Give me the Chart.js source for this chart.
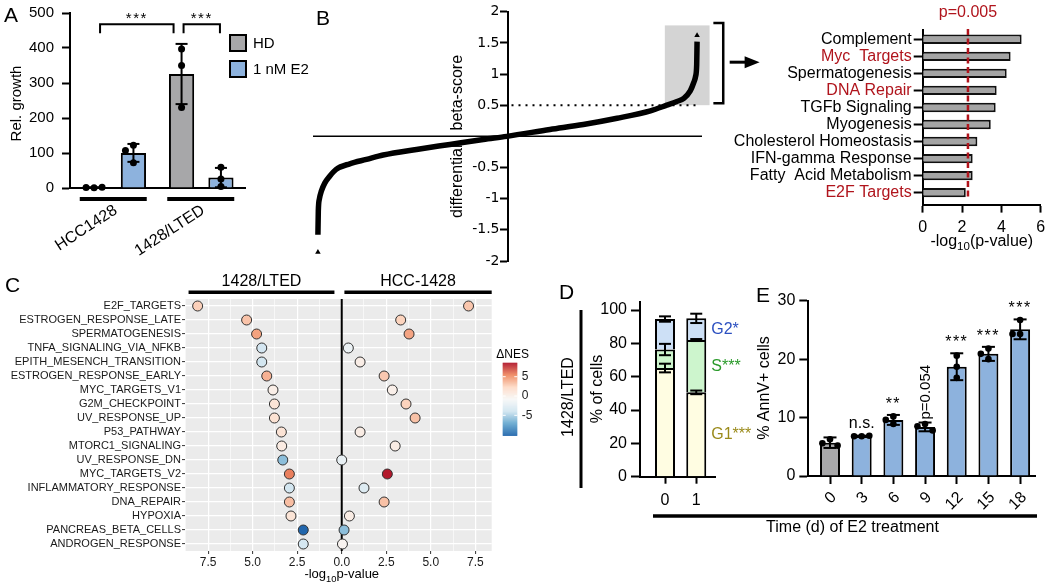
<!DOCTYPE html>
<html>
<head>
<meta charset="utf-8">
<script src="https://cdn.jsdelivr.net/npm/chart.js@4.4.1/dist/chart.umd.min.js"></script>
<style>
  body { margin: 0; background: #fff; }
  #fig { position: relative; width: 1050px; height: 588px; overflow: hidden; font-family: 'Liberation Sans', Arial, sans-serif; }
  #fig canvas { position: absolute; }
  .lab { position: absolute; font-size: 21px; line-height: 1; color: #000; }
</style>
</head>
<body>
<div id="fig">
  <canvas id="cA" width="320" height="262" style="left:0;top:0"></canvas>
  <canvas id="cB" width="520" height="280" style="left:250px;top:0"></canvas>
  <canvas id="cB2" width="330" height="260" style="left:720px;top:0"></canvas>
  <canvas id="cC" width="540" height="320" style="left:0;top:268px"></canvas>
  <canvas id="cD" width="240" height="240" style="left:520px;top:280px"></canvas>
  <canvas id="cE" width="410" height="308" style="left:640px;top:280px"></canvas>
  <div class="lab" style="left:4px;top:4px">A</div>
  <div class="lab" style="left:316px;top:7px">B</div>
  <div class="lab" style="left:5px;top:274px">C</div>
  <div class="lab" style="left:559px;top:281px">D</div>
  <div class="lab" style="left:756px;top:284px">E</div>
</div>
<script>
// ---- A: relative growth
const aCells = ['HCC1428', '1428/LTED'];
const aHD = [1.3, 325.7];
const aHDsd = [0.8, 86];
const aE2 = [100.3, 29.7];
const aE2sd = [25.6, 27.7];
const aHDrep = [[0.5, 1.5, 2], [397, 350, 230]];
const aE2rep = [[122, 107, 72], [59, 26, 4]];
const aTicks = [0, 100, 200, 300, 400, 500];

// ---- B: ranked differential beta-score (rank in % of guides)
const bRank = [0, 0.1, 0.4, 0.9, 1.8, 3.1, 4.8, 8.4, 12.8, 17.2, 26, 34.8, 43.6, 49.8, 61.2, 70, 78.9, 87.7, 92, 94.7, 96.5, 98.2, 99.1, 99.6, 99.9, 100];
const bScore = [-1.58, -1.2, -1.0, -0.88, -0.75, -0.64, -0.53, -0.44, -0.37, -0.30, -0.21, -0.13, -0.05, 0, 0.11, 0.19, 0.29, 0.41, 0.50, 0.56, 0.61, 0.73, 0.86, 0.96, 1.15, 1.52];
const bEndRank = [0, 100];
const bEndScore = [-1.86, 1.62];

// ---- B: hallmark enrichment of top hits
const bPath = ['Complement', 'Myc  Targets', 'Spermatogenesis', 'DNA Repair', 'TGFb Signaling', 'Myogenesis',
  'Cholesterol Homeostasis', 'IFN-gamma Response', 'Fatty  Acid Metabolism', 'E2F Targets'];
const bLogP = [5.03, 4.47, 4.27, 3.76, 3.71, 3.46, 2.78, 2.54, 2.54, 2.19];
const bRed = ['Myc  Targets', 'DNA Repair', 'E2F Targets'];
const bCut = 0.005;

// ---- C: GSEA hallmarks
const cPath = ['E2F_TARGETS', 'ESTROGEN_RESPONSE_LATE', 'SPERMATOGENESIS', 'TNFA_SIGNALING_VIA_NFKB',
  'EPITH_MESENCH_TRANSITION', 'ESTROGEN_RESPONSE_EARLY', 'MYC_TARGETS_V1', 'G2M_CHECKPOINT', 'UV_RESPONSE_UP',
  'P53_PATHWAY', 'MTORC1_SIGNALING', 'UV_RESPONSE_DN', 'MYC_TARGETS_V2', 'INFLAMMATORY_RESPONSE', 'DNA_REPAIR',
  'HYPOXIA', 'PANCREAS_BETA_CELLS', 'ANDROGEN_RESPONSE'];
const cLtedP = [8.09, 5.34, 4.78, 4.49, 4.49, 4.21, 3.86, 3.78, 3.78, 3.39, 3.37, 3.31, 2.94, 2.94, 2.94, 2.85, 2.16, 2.16];
const cLtedNes = [2.8, 3.3, 4.6, -3.6, -3.7, 4.0, 0.3, 1.4, 1.6, 1.5, 0.6, -5.9, 5.8, -3.7, 3.5, 1.4, -10.1, -3.5];
const cHccP = [7.12, 3.31, 3.78, 0.37, 1.03, 2.38, 2.84, 3.61, 4.12, 1.03, 3.0, 0, 2.56, 1.25, 2.38, 0.43, 0.13, 0.04];
const cHccNes = [3.2, 2.65, 4.5, -1.6, 0.4, 3.1, 0.15, 2.7, 3.4, 0.5, 0.5, -2.0, 8.63, -2.9, 3.4, 0.5, -5.9, -0.3];
const cNesTicks = [5, 0, -5];

// ---- D: cell cycle
const dTime = ['0', '1'];
const dG1 = [65.2, 50.6], dG1sd = [2.6, 1.1];
const dS = [11.1, 31.4], dSsd = [3.4, 0.6];
const dG2 = [18.3, 13.0], dG2sd = [1.6, 2.8];
const dTicks = [0, 20, 40, 60, 80, 100];

// ---- E: apoptosis
const eDays = ['0', '3', '6', '9', '12', '15', '18'];
const eMean = [5.7, 6.8, 9.6, 8.4, 18.7, 20.9, 25.1];
const eSd = [0.9, 0.1, 0.85, 0.75, 2.3, 1.2, 1.7];
const eRep = [[6.3, 5.6, 5.2], [6.8, 6.8, 6.9], [10.2, 9.6, 8.9], [8.9, 8.5, 7.8], [20.6, 18.7, 16.8], [21.8, 20.9, 20.0], [26.7, 24.3, 24.3]];
const eSig = ['', 'n.s.', '**', 'p=0.054', '***', '***', '***'];
const eTicks = [0, 10, 20, 30];

const FAM = "'Liberation Sans', Arial, sans-serif";
const WIDE = "'DejaVu Sans', sans-serif";
const BLACK = '#000';
const GRAY = '#a7a7a9';
const BLUE = '#8db2dd';
const RED = '#b0141c';
Chart.defaults.font.family = FAM;
Chart.defaults.color = BLACK;
Chart.defaults.animation = false;
Chart.defaults.responsive = false;
Chart.defaults.plugins.legend.display = false;
Chart.defaults.plugins.tooltip.enabled = false;

function fixW(w) { return s => { s.width = w; s.paddingTop = 0; s.paddingBottom = 0; }; }
function fixH(h) { return s => { s.height = h; s.paddingLeft = 0; s.paddingRight = 0; }; }
function tickGrid(len) { return { drawOnChartArea: false, offset: false, tickLength: len, tickWidth: 2, tickColor: BLACK }; }
const AXB = { color: BLACK, width: 2 };
function setTicks(vals) { return s => { s.ticks = vals.map(v => ({ value: v })); }; }

function txt(ctx, s, x, y, size, opt) {
  opt = opt || {};
  ctx.save();
  ctx.font = size + 'px ' + (opt.fam || FAM);
  ctx.fillStyle = opt.color || BLACK;
  ctx.textAlign = opt.align || 'center';
  ctx.textBaseline = opt.base || 'middle';
  if (opt.spacing) ctx.letterSpacing = opt.spacing + 'px';
  ctx.translate(x, y);
  if (opt.rot) ctx.rotate(opt.rot);
  ctx.fillText(s, 0, 0);
  ctx.restore();
}
// text with a subscript part, centred on x, baseline y
function subText(ctx, parts, x, y, size) {
  ctx.save();
  ctx.fillStyle = BLACK;
  ctx.textAlign = 'left';
  ctx.textBaseline = 'alphabetic';
  const fonts = parts.map(p => (p[1] ? size * 0.72 : size) + 'px ' + FAM);
  let w = 0;
  parts.forEach((p, i) => { ctx.font = fonts[i]; w += ctx.measureText(p[0]).width; });
  let cx = x - w / 2;
  parts.forEach((p, i) => {
    ctx.font = fonts[i];
    ctx.fillText(p[0], cx, p[1] ? y + size * 0.28 : y);
    cx += ctx.measureText(p[0]).width;
  });
  ctx.restore();
}
function line(ctx, pts, w, color, dash) {
  ctx.save();
  ctx.strokeStyle = color || BLACK;
  ctx.lineWidth = w;
  if (dash) ctx.setLineDash(dash);
  ctx.beginPath();
  pts.forEach((p, i) => i ? ctx.lineTo(p[0], p[1]) : ctx.moveTo(p[0], p[1]));
  ctx.stroke();
  ctx.restore();
}
function errBar(ctx, x, y1, y2, half) {
  line(ctx, [[x, y1], [x, y2]], 2);
  line(ctx, [[x - half, y1], [x + half, y1]], 2);
  line(ctx, [[x - half, y2], [x + half, y2]], 2);
}
// simple beeswarm: shift colliding dots sideways
function swarm(ys, r) {
  const placed = [], d = 2 * r + 1;
  return ys.map(y => {
    for (const k of [0, -1, 1, -2, 2, -3, 3]) {
      const x = k * d;
      if (placed.every(p => Math.hypot(p[0] - x, p[1] - y) >= 2 * r)) { placed.push([x, y]); return x; }
    }
    return 0;
  });
}
function dots(ctx, x, ys, r) {
  const off = swarm(ys, r);
  ctx.save();
  ctx.fillStyle = BLACK;
  ys.forEach((y, i) => { ctx.beginPath(); ctx.arc(x + off[i], y, r, 0, Math.PI * 2); ctx.fill(); });
  ctx.restore();
}

// ================= A =================
new Chart(document.getElementById('cA'), {
  type: 'bar',
  data: {
    labels: aCells,
    datasets: [
      { label: 'HD', data: aHD, backgroundColor: GRAY, borderColor: BLACK, borderWidth: 2, categoryPercentage: 0.9, barPercentage: 0.64 },
      { label: '1 nM E2', data: aE2, backgroundColor: BLUE, borderColor: BLACK, borderWidth: 2, categoryPercentage: 0.9, barPercentage: 0.64 }
    ]
  },
  options: {
    layout: { padding: { left: 0, top: 13, right: 75, bottom: 0 } },
    scales: {
      x: {
        grid: { display: false, drawTicks: false }, border: AXB,
        ticks: { display: false },
        afterFit: fixH(74)
      },
      y: {
        min: 0, max: 500, afterBuildTicks: setTicks(aTicks),
        ticks: { font: { size: 15 }, padding: 8 },
        grid: tickGrid(8), border: AXB, afterFit: fixW(70)
      }
    }
  },
  plugins: [{
    id: 'aExtra',
    afterDatasetsDraw(c) {
      const ctx = c.ctx, y = c.scales.y;
      [[aHD, aHDsd, aHDrep], [aE2, aE2sd, aE2rep]].forEach(([m, sd, rep], di) => {
        c.getDatasetMeta(di).data.forEach((bar, j) => {
          errBar(ctx, bar.x, y.getPixelForValue(m[j] + sd[j]), y.getPixelForValue(Math.max(0, m[j] - sd[j])), 6);
          dots(ctx, bar.x, rep[j].map(v => y.getPixelForValue(v)), 3.5);
        });
      });
    },
    afterDraw(c) {
      const ctx = c.ctx, x = c.scales.x, y = c.scales.y;
      const hd = c.getDatasetMeta(0).data, e2 = c.getDatasetMeta(1).data;
      aCells.forEach((g, j) => {
        const cx = x.getPixelForValue(j);
        line(ctx, [[cx - 34, y.bottom + 11], [cx + 33, y.bottom + 11]], 4);
        txt(ctx, g, cx + 2, y.bottom + 21, 16, { align: 'right', rot: -33 * Math.PI / 180 });
      });
      txt(ctx, 'Rel. growth', 17, 103.5, 15, { rot: -Math.PI / 2 });
      const yb = y.getPixelForValue(468), yl = y.getPixelForValue(442);
      [[hd[0].x + 6, hd[1].x - 8], [hd[1].x + 2, e2[1].x - 1]].forEach(([x1, x2]) => {
        line(ctx, [[x1, yl], [x1, yb], [x2, yb], [x2, yl]], 2);
        txt(ctx, '***', (x1 + x2) / 2, yb - 5, 15, { spacing: 1.5 });
      });
      c.data.datasets.forEach((ds, i) => {
        const top = 34 + i * 26;
        ctx.save();
        ctx.fillStyle = ds.backgroundColor;
        ctx.fillRect(229, top, 18, 18);
        ctx.strokeStyle = BLACK; ctx.lineWidth = 2;
        ctx.strokeRect(230, top + 1, 16, 16);
        ctx.restore();
        txt(ctx, ds.label, 253, top + 9.5, 15, { align: 'left' });
      });
    }
  }]
});

// ================= B: ranked curve =================
new Chart(document.getElementById('cB'), {
  type: 'scatter',
  data: {
    datasets: [
      { data: bRank.map((r, i) => ({ x: r, y: bScore[i] })), showLine: true, borderColor: BLACK, borderWidth: 5.5,
        pointRadius: 0, cubicInterpolationMode: 'monotone', clip: false },
      { data: bEndRank.map((r, i) => ({ x: r, y: bEndScore[i] })), pointStyle: 'triangle', pointRadius: 3.2,
        backgroundColor: BLACK, borderColor: BLACK, borderWidth: 0, clip: false }
    ]
  },
  options: {
    layout: { padding: { left: 63, right: 68, top: 11.7, bottom: 19 } },
    scales: {
      x: { type: 'linear', min: -1.3, max: 101.3, display: false },
      y: {
        position: 'center', min: -2, max: 2,
        ticks: { stepSize: 0.5, font: { size: 14, family: WIDE }, padding: 1, callback: v => v === 0 ? '' : String(v) },
        grid: tickGrid(7), border: AXB, afterFit: fixW(40)
      }
    }
  },
  plugins: [{
    id: 'bExtra',
    beforeDatasetsDraw(c) {
      const ctx = c.ctx, x = c.scales.x, y = c.scales.y;
      const gx1 = x.getPixelForValue(91.5), gx2 = x.getPixelForValue(103.3);
      const gy1 = y.getPixelForValue(1.78), gy2 = y.getPixelForValue(0.5);
      ctx.save(); ctx.fillStyle = '#d4d4d4'; ctx.fillRect(gx1, gy1, gx2 - gx1, gy2 - gy1); ctx.restore();
      const y0 = y.getPixelForValue(0);
      line(ctx, [[c.chartArea.left, y0], [c.chartArea.right, y0]], 1.5);
      const yh = y.getPixelForValue(0.5);
      line(ctx, [[x.getPixelForValue(50) + 4, yh], [x.getPixelForValue(100), yh]], 2, BLACK, [2, 5]);
    },
    afterDraw(c) {
      const ctx = c.ctx, x = c.scales.x, y = c.scales.y;
      const bx1 = x.getPixelForValue(104.3), bx2 = x.getPixelForValue(106.9);
      const by1 = y.getPixelForValue(1.82), by2 = y.getPixelForValue(0.53);
      line(ctx, [[bx1, by1], [bx2, by1], [bx2, by2], [bx1, by2]], 2.5);
      const ax1 = x.getPixelForValue(108.6), ax2 = x.getPixelForValue(116.5), ay = y.getPixelForValue(1.19);
      line(ctx, [[ax1, ay], [ax2 - 12, ay]], 3);
      ctx.save(); ctx.fillStyle = BLACK; ctx.beginPath();
      ctx.moveTo(ax2, ay); ctx.lineTo(ax2 - 15, ay - 6); ctx.lineTo(ax2 - 15, ay + 6); ctx.closePath(); ctx.fill(); ctx.restore();
      const tx = x.getPixelForValue(50) - 50;
      txt(ctx, 'beta-score', tx, y.getPixelForValue(0.7), 16, { rot: -Math.PI / 2 });
      txt(ctx, 'differential', tx, y.getPixelForValue(-0.72), 16, { rot: -Math.PI / 2 });
    }
  }]
});

// ================= B: enrichment bars =================
new Chart(document.getElementById('cB2'), {
  type: 'bar',
  data: {
    datasets: [{
      data: bLogP.map((v, i) => ({ x: v, y: i })), backgroundColor: '#a4a4a4', borderColor: '#111', borderWidth: 2,
      barPercentage: 0.55, categoryPercentage: 1
    }]
  },
  options: {
    indexAxis: 'y',
    layout: { padding: { left: 0, right: 9.3, top: 29.9, bottom: 0 } },
    scales: {
      x: {
        type: 'linear', min: 0, max: 6, ticks: { stepSize: 2, font: { size: 16 }, padding: 5 },
        grid: tickGrid(8), border: AXB, afterFit: fixH(55.4)
      },
      y: {
        type: 'linear', offset: false, reverse: true, min: -0.55, max: 9.7, afterBuildTicks: setTicks(bPath.map((p, i) => i)),
        ticks: {
          autoSkip: false, font: { size: 16 }, padding: 2, callback: v => bPath[v],
          color: t => bRed.includes(bPath[t.tick.value]) ? RED : BLACK
        },
        grid: tickGrid(9), border: AXB, afterFit: fixW(202.7)
      }
    }
  },
  plugins: [{
    id: 'b2Extra',
    afterDatasetsDraw(c) {
      const ctx = c.ctx, x = c.scales.x;
      const px = x.getPixelForValue(-Math.log10(bCut));
      line(ctx, [[px, c.chartArea.top - 1], [px, c.chartArea.bottom - 6]], 2.5, RED, [6, 3.5]);
      txt(ctx, 'p=' + bCut, px, 12.5, 16, { color: RED });
      subText(ctx, [['-log', 0], ['10', 1], ['(p-value)', 0]], (c.chartArea.left + c.chartArea.right) / 2, 245.5, 16);
    }
  }]
});

// ================= C: bubble dot plot =================
const allNes = cLtedNes.concat(cHccNes);
const NES_MIN = Math.min(...allNes), NES_MAX = Math.max(...allNes);
const RDBU = ['#2166ac', '#67a9cf', '#d1e5f0', '#f7f7f7', '#fddbc7', '#ef8a62', '#b2182b'];
function hexRgb(h) { return [1, 3, 5].map(k => parseInt(h.substr(k, 2), 16)); }
function nesColor(v) {
  const f = Math.max(0, Math.min(1, (v - NES_MIN) / (NES_MAX - NES_MIN))) * 6;
  const i = Math.min(5, Math.floor(f)), t = f - i;
  const a = hexRgb(RDBU[i]), b = hexRgb(RDBU[i + 1]);
  return 'rgb(' + a.map((c, k) => Math.round(c + (b[k] - c) * t)).join(',') + ')';
}
const cXTicks = [];
for (let k = -7; k <= 6; k++) cXTicks.push(k * 1.25);
const isMaj = v => Math.abs(v / 2.5 - Math.round(v / 2.5)) < 1e-6;

new Chart(document.getElementById('cC'), {
  type: 'scatter',
  data: {
    datasets: [
      { data: cLtedP.map((p, i) => ({ x: -p, y: i + 1 })), pointRadius: 5, pointBorderWidth: 1, pointBorderColor: '#333',
        pointBackgroundColor: cLtedNes.map(nesColor) },
      { data: cHccP.map((p, i) => ({ x: p, y: i + 1 })), pointRadius: 5, pointBorderWidth: 1, pointBorderColor: '#333',
        pointBackgroundColor: cHccNes.map(nesColor) }
    ]
  },
  options: {
    layout: { padding: { left: 0, top: 31, right: 48.3, bottom: 0 } },
    scales: {
      x: {
        type: 'linear', min: -8.8, max: 8.42, afterBuildTicks: setTicks(cXTicks),
        ticks: { autoSkip: false, font: { size: 12 }, color: '#1a1a1a', padding: 1,
          callback: v => isMaj(v) ? Math.abs(v).toFixed(1) : '' },
        grid: { color: '#fff', lineWidth: t => isMaj(t.tick.value) ? 1.2 : 0.6, tickLength: 3,
          tickColor: t => isMaj(t.tick.value) ? '#333' : 'rgba(0,0,0,0)', tickWidth: 1 },
        border: { display: false }, afterFit: fixH(37)
      },
      y: {
        type: 'linear', reverse: true, min: 0.5, max: 18.5, afterBuildTicks: setTicks(cPath.map((p, i) => i + 1)),
        ticks: { autoSkip: false, font: { size: 11 }, color: '#1a1a1a', padding: 1, callback: v => cPath[v - 1] },
        grid: { color: '#fff', lineWidth: 1.2, tickLength: 3, tickColor: '#333', tickWidth: 1 },
        border: { display: false }, afterFit: fixW(185)
      }
    }
  },
  plugins: [{
    id: 'cExtra',
    beforeDraw(c) {
      const a = c.chartArea, ctx = c.ctx;
      ctx.save(); ctx.fillStyle = '#ebebeb'; ctx.fillRect(a.left, a.top, a.right - a.left, a.bottom - a.top); ctx.restore();
    },
    beforeDatasetsDraw(c) {
      const x0 = c.scales.x.getPixelForValue(0);
      line(c.ctx, [[x0, c.chartArea.top], [x0, c.chartArea.bottom]], 2);
    },
    afterDraw(c) {
      const ctx = c.ctx, x = c.scales.x, a = c.chartArea;
      const ys = a.top - 6.7;
      const l1 = x.getPixelForValue(-8.6), l2 = x.getPixelForValue(-0.41);
      const r1 = x.getPixelForValue(0.15), r2 = a.right;
      line(ctx, [[l1, ys], [l2, ys]], 3.5);
      line(ctx, [[r1, ys], [r2, ys]], 3.5);
      txt(ctx, '1428/LTED', (l1 + l2) / 2, ys - 11, 16);
      txt(ctx, 'HCC-1428', (r1 + r2) / 2, ys - 11, 16);
      subText(ctx, [['-log', 0], ['10', 1], ['p-value', 0]], x.getPixelForValue(0), 310, 13);
      // colour bar
      const cbL = a.right + 11, cbW = 14.6, cbT = 94.7, cbB = 167;
      for (let yy = cbT; yy < cbB; yy += 1) {
        const v = NES_MAX - (yy - cbT) / (cbB - cbT) * (NES_MAX - NES_MIN);
        ctx.fillStyle = nesColor(v);
        ctx.fillRect(cbL, yy, cbW, 1.2);
      }
      txt(ctx, '\u0394NES', cbL - 6.5, cbT - 8, 12, { align: 'left' });
      cNesTicks.forEach(v => {
        const yy = cbT + (NES_MAX - v) / (NES_MAX - NES_MIN) * (cbB - cbT);
        line(ctx, [[cbL, yy], [cbL + 3, yy]], 1, '#fff');
        line(ctx, [[cbL + cbW - 3, yy], [cbL + cbW, yy]], 1, '#fff');
        txt(ctx, String(v), cbL + cbW + 4.5, yy, 12, { align: 'left', color: '#1a1a1a' });
      });
    }
  }]
});

// ================= D: cell cycle stacked bars =================
const dSeg = [[dG1, dG1sd], [dS, dSsd], [dG2, dG2sd]];
new Chart(document.getElementById('cD'), {
  type: 'bar',
  data: {
    datasets: [
      { label: 'G1***', data: dG1.map((v, i) => ({ x: i, y: v })), backgroundColor: '#fffde2' },
      { label: 'S***', data: dS.map((v, i) => ({ x: i, y: v })), backgroundColor: '#cdf5cd' },
      { label: 'G2*', data: dG2.map((v, i) => ({ x: i, y: v })), backgroundColor: '#cde0f6' }
    ].map(ds => Object.assign(ds, { borderColor: BLACK, borderWidth: 2, barPercentage: 0.64, categoryPercentage: 1 }))
  },
  options: {
    layout: { padding: { left: 0, top: 21.7, right: 45, bottom: 0 } },
    scales: {
      x: {
        type: 'linear', offset: false, stacked: true, min: -0.8, max: 1.6, afterBuildTicks: setTicks(dTime.map((t, i) => i)),
        ticks: { autoSkip: false, font: { size: 16 }, padding: 7, callback: v => dTime[v] },
        grid: tickGrid(7), border: AXB, afterFit: fixH(43.3)
      },
      y: {
        stacked: true, min: 0, max: 105, afterBuildTicks: setTicks(dTicks),
        ticks: { font: { size: 16 }, padding: 4 }, grid: tickGrid(9), border: AXB, afterFit: fixW(120)
      }
    }
  },
  plugins: [{
    id: 'dExtra',
    afterDatasetsDraw(c) {
      const ctx = c.ctx, y = c.scales.y;
      dTime.forEach((t, i) => {
        const bx = c.getDatasetMeta(0).data[i].x;
        let cum = 0;
        dSeg.forEach(([m, sd]) => {
          cum += m[i];
          errBar(ctx, bx, y.getPixelForValue(cum + sd[i]), y.getPixelForValue(cum - sd[i]), 6);
        });
      });
    },
    afterDraw(c) {
      const ctx = c.ctx, y = c.scales.y;
      const last = dTime.length - 1;
      const bx = c.getDatasetMeta(0).data[last].x;
      const cols = ['#9a8a1a', '#2a9a2a', '#2c50c0'];
      let cum = 0;
      dSeg.forEach(([m], k) => {
        const mid = cum + m[last] / 2;
        cum += m[last];
        txt(ctx, c.data.datasets[k].label, bx + 15, y.getPixelForValue(mid), 16, { align: 'left', color: cols[k] });
      });
      line(ctx, [[61, 30], [61, 208]], 3);
      txt(ctx, '1428/LTED', 49, 117, 16, { rot: -Math.PI / 2 });
      txt(ctx, '% of cells', 78, 109, 16, { rot: -Math.PI / 2 });
    }
  }]
});

// ================= E: AnnV+ bars =================
new Chart(document.getElementById('cE'), {
  type: 'bar',
  data: {
    datasets: [{
      data: eMean.map((v, i) => ({ x: i, y: v })), backgroundColor: eDays.map((d, i) => i === 0 ? GRAY : BLUE),
      borderColor: BLACK, borderWidth: 2, barPercentage: 0.63, categoryPercentage: 1
    }]
  },
  options: {
    layout: { padding: { left: 0, top: 20.7, right: 15, bottom: 0 } },
    scales: {
      x: {
        type: 'linear', offset: false, min: -0.685, max: 6.47, afterBuildTicks: setTicks(eDays.map((d, i) => i)),
        ticks: { autoSkip: false, font: { size: 16 }, minRotation: 45, maxRotation: 45, padding: 4, labelOffset: 4,
          callback: v => eDays[v] },
        grid: tickGrid(8), border: AXB, afterFit: fixH(112)
      },
      y: {
        min: 0, max: 30, afterBuildTicks: setTicks(eTicks),
        ticks: { font: { size: 16 }, padding: 4 }, grid: tickGrid(9), border: AXB, afterFit: fixW(168.3)
      }
    }
  },
  plugins: [{
    id: 'eExtra',
    afterDatasetsDraw(c) {
      const ctx = c.ctx, y = c.scales.y;
      c.getDatasetMeta(0).data.forEach((bar, i) => {
        const top = y.getPixelForValue(eMean[i] + eSd[i]);
        errBar(ctx, bar.x, top, y.getPixelForValue(eMean[i] - eSd[i]), 6.5);
        dots(ctx, bar.x, eRep[i].map(v => y.getPixelForValue(v)), 3.3);
        const s = eSig[i];
        if (!s) return;
        if (s.startsWith('p=')) txt(ctx, s, bar.x + 1, top - 3, 15, { rot: -Math.PI / 2, align: 'left' });
        else if (s === 'n.s.') txt(ctx, s, bar.x, top - 8, 16, { base: 'alphabetic' });
        else txt(ctx, s, bar.x, top - 6, 16, { base: 'alphabetic', spacing: 1.5 });
      });
    },
    afterDraw(c) {
      const ctx = c.ctx;
      line(ctx, [[13, 236], [397, 236]], 3.5);
      txt(ctx, 'Time (d) of E2 treatment', 212.5, 248, 16);
      txt(ctx, '% AnnV+ cells', 125, 108, 16, { rot: -Math.PI / 2 });
    }
  }]
});
</script>
</body>
</html>
